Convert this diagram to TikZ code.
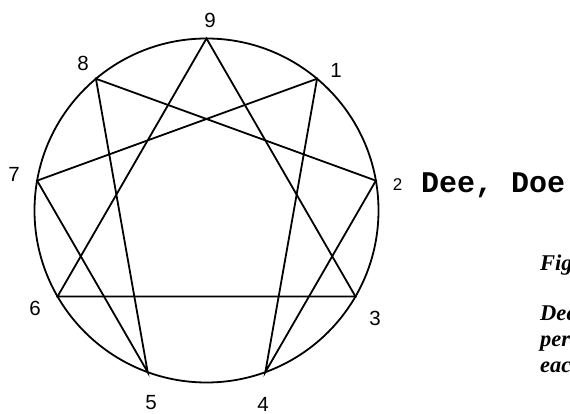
\documentclass[tikz,border=0pt]{standalone}
\usepackage{fontspec}
\setmainfont{Liberation Serif}
\newfontfamily\numfont{Liberation Sans}
\newfontfamily\typefont{Liberation Mono}

\begin{document}
\begin{tikzpicture}[
    x=1pt, y=1pt,
    num/.style={font=\numfont\fontsize{20.5}{20.5}\selectfont, inner sep=0pt},
    captext/.style={anchor=base west, inner sep=0pt, font=\bfseries\itshape\fontsize{22.5}{22.5}\selectfont},
    line/.style={line width=1.8pt, line join=miter, line cap=round}
]
\path[use as bounding box, clip] (0,0) rectangle (570,414);

% circle and the nine points on it
\coordinate (c) at (206.5,203.5);
\path (c) ++(90:172pt)  coordinate (v9);
\path (c) ++(50:172pt)  coordinate (v1);
\path (c) ++(10:172pt)  coordinate (v2);
\path (c) ++(-30:172pt) coordinate (v3);
\path (c) ++(-70:172pt) coordinate (v4);
\path (c) ++(-110:172pt) coordinate (v5);
\path (c) ++(-150:172pt) coordinate (v6);
\path (c) ++(170:172pt) coordinate (v7);
\path (c) ++(130:172pt) coordinate (v8);

\draw[line] (c) circle[radius=172pt];

% triangle
\draw[line] (v9) -- (v3) -- (v6) -- cycle;

% hexad
\draw[line] (v1) -- (v4) -- (v2) -- (v8) -- (v5) -- (v7) -- cycle;

% numbers
\node[num] (l9) at (210,394) {9};
\node[num] (l1) at (336,344) {1};
\node[num, font=\numfont\fontsize{17}{17}\selectfont] (l2) at (397.5,229.5) {2};
\node[num] (l3) at (375,96) {3};
\node[num] (l4) at (263,10) {4};
\node[num] (l5) at (151,11) {5};
\node[num] (l6) at (35,106) {6};
\node[num] (l7) at (14,240) {7};
\node[num] (l8) at (83,351) {8};

\node[anchor=base west, inner sep=0pt, font=\typefont\bfseries\fontsize{30}{30}\selectfont] (name) at (421,221) {Dee, Doe};

% caption, cut off at the right edge
\node[captext] (fig) at (540,143) {Fig};
\node[captext] (cap1) at (540,93) {Dee};
\node[captext] (cap2) at (540,67) {per};
\node[captext] (cap3) at (540,41) {eac};

\end{tikzpicture}
\end{document}
